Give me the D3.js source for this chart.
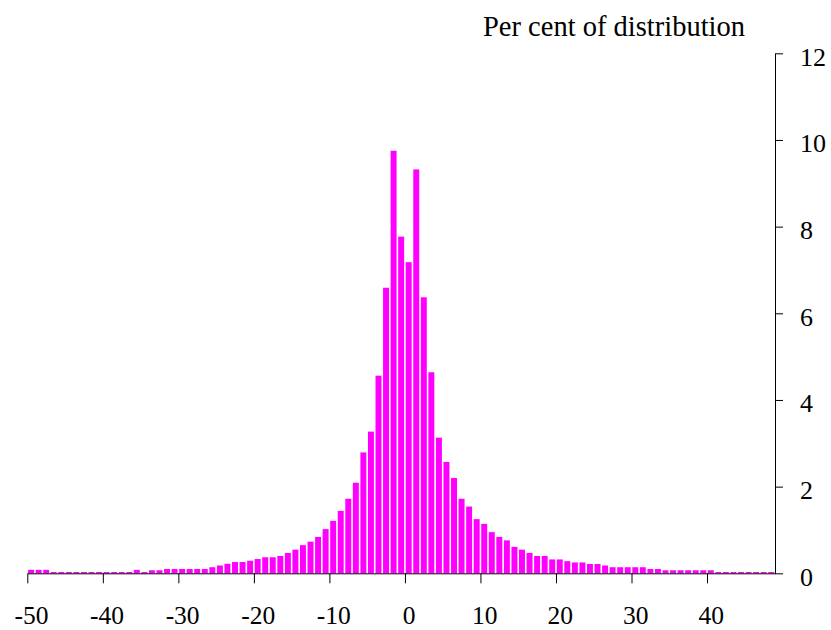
<!DOCTYPE html>
<html>
<head>
<meta charset="utf-8">
<script src="https://cdn.jsdelivr.net/npm/d3@7"></script>
<style>
  body { margin: 0; background: #fff; }
  svg text { font-family: "Liberation Serif", "Times New Roman", serif; fill: #000; }
</style>
</head>
<body>
<svg id="chart" width="831" height="630"></svg>
<script>
// bins: each bar covers [start, start + 1)
const binStart = d3.range(-50, 49);

// per cent of distribution in each bin
const percent = [
  0.08, 0.08, 0.08, 0.03, 0.03, 0.03, 0.03, 0.03, 0.03, 0.03,   // -50 .. -41
  0.03, 0.03, 0.03, 0.03, 0.08, 0.03, 0.07, 0.07, 0.10, 0.10,   // -40 .. -31
  0.10, 0.10, 0.10, 0.10, 0.14, 0.18, 0.22, 0.26, 0.26, 0.29,   // -30 .. -21
  0.33, 0.37, 0.37, 0.40, 0.47, 0.545, 0.65, 0.73, 0.84, 1.02,  // -20 .. -11
  1.21, 1.44, 1.72, 2.09, 2.79, 3.27, 4.56, 6.59, 9.75, 7.77,   // -10 .. -1
  7.18, 9.32, 6.37, 4.64, 3.13, 2.57, 2.20, 1.72, 1.54, 1.25,   // 0 .. 9
  1.14, 0.95, 0.84, 0.76, 0.61, 0.545, 0.47, 0.40, 0.40, 0.32,  // 10 .. 19
  0.32, 0.28, 0.25, 0.25, 0.215, 0.215, 0.18, 0.14, 0.14, 0.14, // 20 .. 29
  0.14, 0.14, 0.10, 0.10, 0.07, 0.07, 0.07, 0.07, 0.07, 0.07,   // 30 .. 39
  0.07, 0.03, 0.03, 0.03, 0.03, 0.03, 0.03, 0.03, 0.03          // 40 .. 48
];

const xTicks = [-50, -40, -30, -20, -10, 0, 10, 20, 30, 40];
const yTicks = [0, 2, 4, 6, 8, 10, 12];
const yTitle = 'Per cent of distribution';

const svg = d3.select('#chart');

const x = d3.scaleLinear().domain([-50, 49]).range([27.3, 775]);
const y = d3.scaleLinear().domain([0, 12]).range([573.3, 53.3]);

const step = x(1) - x(0);

// bars
svg.append('g')
  .selectAll('rect')
  .data(binStart)
  .join('rect')
  .attr('x', d => x(d) + 0.8)
  .attr('width', step - 1.6)
  .attr('y', (d, i) => y(percent[i]))
  .attr('height', (d, i) => y(0) - y(percent[i]))
  .attr('fill', '#ff00ff');

// bottom axis: ticks on bin edges, labels centred on the bin
const xAxis = svg.append('g')
  .attr('transform', `translate(0,${y(0)})`)
  .call(d3.axisBottom(x).tickValues(xTicks).tickSize(10).tickSizeOuter(0).tickFormat(d => String(d)));
xAxis.selectAll('text')
  .attr('x', step / 2)
  .attr('y', 51.2)
  .attr('dy', 0)
  .style('font-size', '25.5px');

// right axis
const yAxis = svg.append('g')
  .attr('transform', `translate(${x(49)},0)`)
  .call(d3.axisRight(y).tickValues(yTicks).tickSize(8).tickSizeOuter(0).tickPadding(17));
yAxis.selectAll('text')
  .attr('dy', 11.7)
  .style('font-size', '26px');

svg.selectAll('.domain, .tick line').attr('stroke', '#000');
svg.selectAll('.tick text').attr('fill', '#000');

// axis title
svg.append('text')
  .attr('x', 745)
  .attr('y', 36)
  .attr('text-anchor', 'end')
  .style('font-size', '28.5px')
  .text(yTitle);
</script>
</body>
</html>
